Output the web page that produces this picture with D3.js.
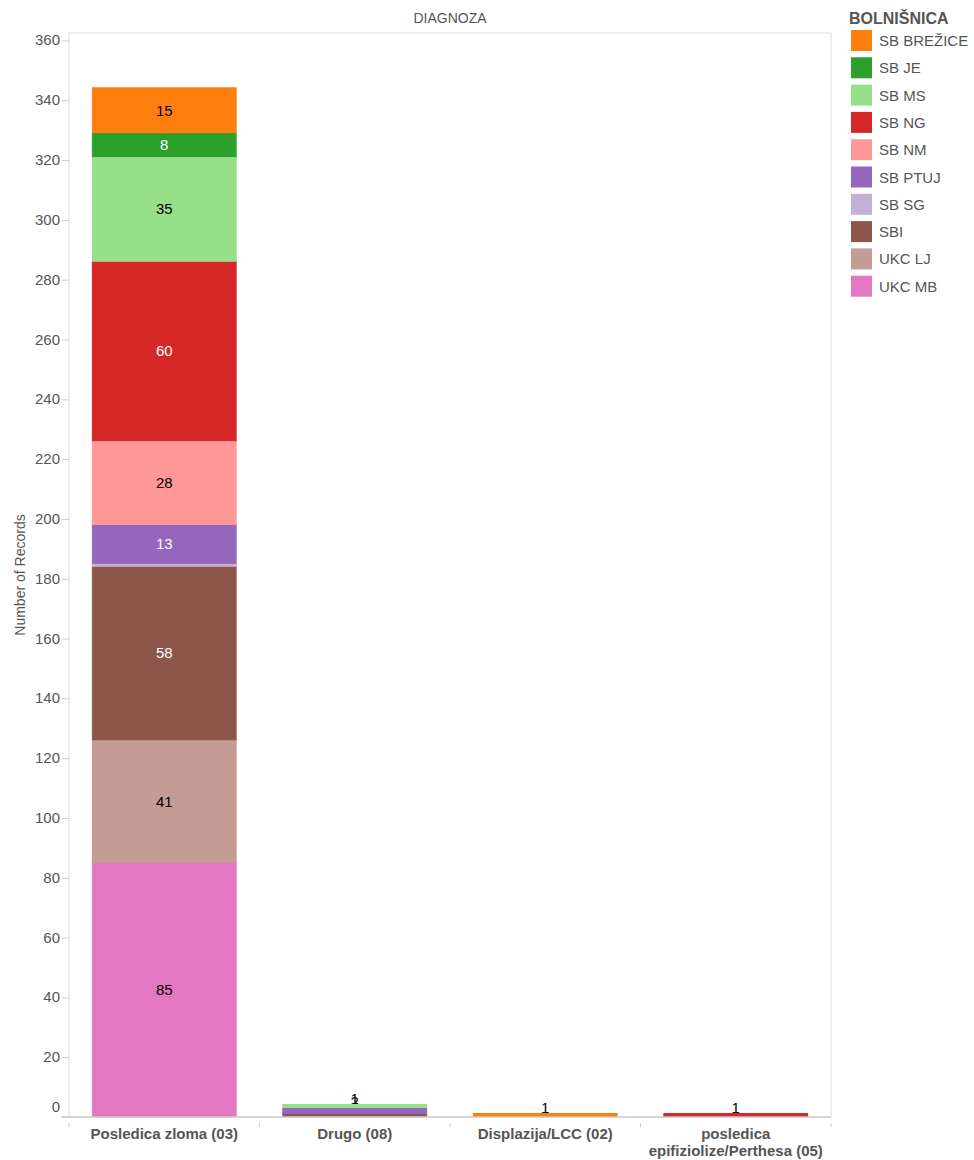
<!DOCTYPE html>
<html>
<head>
<meta charset="utf-8">
<script src="https://cdn.jsdelivr.net/npm/d3@7"></script>
<style>
  body { margin: 0; background: #fff; font-family: Arial, "Liberation Sans", sans-serif; }
</style>
</head>
<body>
<div id="chart"></div>
<script>
// categories (x axis) and hospitals (stack series)
const categories = ['Posledica zloma (03)', 'Drugo (08)', 'Displazija/LCC (02)', 'posledica epifiziolize/Perthesa (05)'];
const hospitals = ['SB BREŽICE', 'SB JE', 'SB MS', 'SB NG', 'SB NM', 'SB PTUJ', 'SB SG', 'SBI', 'UKC LJ', 'UKC MB'];
const colors = ['#ff7f0e', '#2ca02c', '#98df8a', '#d62728', '#ff9896', '#9467bd', '#c5b0d5', '#8c564b', '#c49c94', '#e377c2'];
const labelColors = ['#000', '#fff', '#000', '#fff', '#000', '#fff', '#000', '#fff', '#000', '#000'];

// values per hospital, in category order
const sbBrezice = [15, 0, 1, 0];
const sbJe = [8, 0, 0, 0];
const sbMs = [35, 1, 0, 0];
const sbNg = [60, 0, 0, 1];
const sbNm = [28, 0, 0, 0];
const sbPtuj = [13, 2, 0, 0];
const sbSg = [1, 0, 0, 0];
const sbi = [58, 1, 0, 0];
const ukcLj = [41, 0, 0, 0];
const ukcMb = [85, 0, 0, 0];

const yTicks = d3.range(0, 361, 20);

const series = [sbBrezice, sbJe, sbMs, sbNg, sbNm, sbPtuj, sbSg, sbi, ukcLj, ukcMb];
const rows = categories.map((c, i) => {
  const r = { cat: c };
  hospitals.forEach((h, j) => r[h] = series[j][i]);
  return r;
});

const width = 974, height = 1160;
const plot = { left: 69, right: 831, top: 33, bottom: 1117 };
const font = 'Arial, "Liberation Sans", sans-serif';

const svg = d3.select('#chart').append('svg')
  .attr('width', width).attr('height', height)
  .attr('font-family', font);

const x = d3.scaleBand().domain(categories).range([plot.left, plot.right])
  .paddingInner(0.24).paddingOuter(0.12);
const y = d3.scaleLinear().domain([0, 362.5]).range([plot.bottom, plot.top]);

// stack bottom-up: UKC MB at bottom, SB BREŽICE on top
const stack = d3.stack().keys(hospitals.slice().reverse());
const stacked = stack(rows);

// frame
svg.append('rect')
  .attr('x', plot.left).attr('y', plot.top)
  .attr('width', plot.right - plot.left).attr('height', plot.bottom - plot.top)
  .attr('fill', 'none').attr('stroke', '#ddd');

// header
svg.append('text')
  .attr('x', (plot.left + plot.right) / 2).attr('y', 23)
  .attr('text-anchor', 'middle')
  .attr('font-size', 14).attr('fill', '#555')
  .text('DIAGNOZA');

// bars
const groups = svg.append('g').selectAll('g')
  .data(stacked).join('g')
  .attr('fill', d => colors[hospitals.indexOf(d.key)])
  .attr('stroke', d => colors[hospitals.indexOf(d.key)]);

groups.selectAll('rect')
  .data(d => d.filter(v => v[1] - v[0] > 0).map(v => Object.assign(v, { key: d.key })))
  .join('rect')
  .attr('x', d => x(d.data.cat) + 0.5)
  .attr('y', d => y(d[1]) - 0.5)
  .attr('width', x.bandwidth() - 1)
  .attr('height', d => y(d[0]) - y(d[1]))
  .attr('stroke-width', 1);

// value labels
groups.selectAll('text')
  .data(d => d.filter(v => v[1] - v[0] > 0))
  .join('text')
  .attr('stroke', 'none')
  .attr('x', d => x(d.data.cat) + x.bandwidth() / 2)
  .attr('y', d => {
    const h = d[1] - d[0];
    return h < 5 ? y(d[1]) - 1 : y((d[0] + d[1]) / 2) + 5;
  })
  .attr('text-anchor', 'middle')
  .attr('font-size', 15)
  .attr('fill', d => {
    const h = d[1] - d[0];
    return h < 5 ? '#000' : labelColors[hospitals.indexOf(d.key)];
  })
  .text(d => d[1] - d[0]);

// y axis
const yAxis = svg.append('g')
  .attr('transform', `translate(${plot.left},0)`)
  .call(d3.axisLeft(y).tickValues(yTicks).tickSize(7).tickPadding(2));
yAxis.select('.domain').remove();
yAxis.selectAll('line').attr('stroke', '#ccc');
yAxis.selectAll('text')
  .attr('font-size', 15).attr('fill', '#555')
  .attr('font-family', font)
  .attr('dy', d => d === 0 ? '-0.35em' : '0.3em');

svg.append('text')
  .attr('transform', `translate(25,${(plot.top + plot.bottom) / 2}) rotate(-90)`)
  .attr('text-anchor', 'middle')
  .attr('font-size', 14).attr('fill', '#555')
  .text('Number of Records');

// x axis
svg.append('line')
  .attr('x1', plot.left - 8).attr('x2', plot.right)
  .attr('y1', plot.bottom).attr('y2', plot.bottom)
  .attr('stroke', '#ccc').attr('stroke-width', 1.5);

const edges = d3.range(categories.length + 1).map(i => plot.left + i * (plot.right - plot.left) / categories.length);
svg.append('g').selectAll('line')
  .data(edges).join('line')
  .attr('x1', d => d).attr('x2', d => d)
  .attr('y1', plot.bottom + 6).attr('y2', plot.bottom + 10)
  .attr('stroke', '#ccc');

const xLabels = svg.append('g').selectAll('text')
  .data(categories).join('text')
  .attr('x', d => x(d) + x.bandwidth() / 2)
  .attr('y', plot.bottom + 22)
  .attr('text-anchor', 'middle')
  .attr('font-size', 15).attr('font-weight', 'bold').attr('fill', '#555');

xLabels.each(function(d) {
  const t = d3.select(this);
  const parts = d.startsWith('posledica ') ? ['posledica', d.slice(10)] : [d];
  parts.forEach((p, i) => t.append('tspan')
    .attr('x', x(d) + x.bandwidth() / 2)
    .attr('dy', i === 0 ? 0 : 17)
    .text(p));
});

// legend
const legend = svg.append('g').attr('transform', 'translate(850,0)');
legend.append('text')
  .attr('x', -1).attr('y', 24)
  .attr('font-size', 16).attr('font-weight', 'bold').attr('fill', '#555')
  .text('BOLNIŠNICA');

const items = legend.selectAll('g.item')
  .data(hospitals).join('g')
  .attr('class', 'item')
  .attr('transform', (d, i) => `translate(0,${30 + i * 27.3})`);
items.append('rect')
  .attr('x', 1).attr('y', 0).attr('width', 21).attr('height', 21)
  .attr('fill', (d, i) => colors[i]);
items.append('text')
  .attr('x', 29).attr('y', 16)
  .attr('font-size', 15).attr('fill', '#555')
  .text(d => d);
</script>
</body>
</html>
